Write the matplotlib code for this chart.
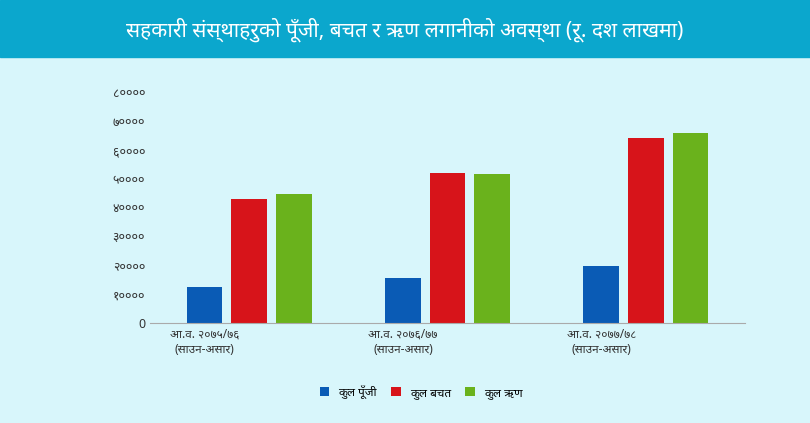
import matplotlib
matplotlib.use("Agg")
import matplotlib.pyplot as plt
import numpy as np

plt.rcParams['font.family'] = ['Noto Sans', 'DejaVu Sans', 'Noto Sans CJK SC']

title = "सहकारी संस्थाहरुको पूँजी, बचत र ऋण लगानीको अवस्था (रू. दश लाखमा)"
categories = ["आ.व. २०७५/७६\n(साउन-असार)", "आ.व. २०७६/७७\n(साउन-असार)", "आ.व. २०७७/७८\n(साउन-असार)"]
series_names = ["कुल पूँजी", "कुल बचत", "कुल ऋण"]
capital = [12500, 15600, 19700]
savings = [42900, 51900, 64000]
loans = [44600, 51600, 65700]
yticks = [0, 10000, 20000, 30000, 40000, 50000, 60000, 70000, 80000]
ytick_labels = ["0", "१००००", "२००००", "३००००", "४००००", "५००००", "६००००", "७००००", "८००००"]
colors = ["#0a5bb5", "#d7141a", "#6ab21c"]

bg = "#d8f6fb"
fig = plt.figure(figsize=(8.10, 4.23), dpi=100, facecolor=bg)
# banner
fig.patches.append(plt.Rectangle((0, 1 - 57/423), 1, 57/423, transform=fig.transFigure, color="#0ba7cd", zorder=0))
fig.text(0.5, 1 - 30/423, title, color="white", ha="center", va="center", fontsize=15, fontweight="bold")

ax = fig.add_axes([150/810, 1 - 323/423, 595/810, 231/423])
ax.set_facecolor(bg)
x = np.arange(len(categories))
w = 0.18
for i, (vals, name) in enumerate(zip([capital, savings, loans], series_names)):
    ax.bar(x + (i - 1) * 0.225, vals, w, color=colors[i], label=name, zorder=2)
ax.set_xlim(-0.5, 2.5)
ax.set_ylim(0, 80000)
ax.set_yticks(yticks)
ax.set_yticklabels(ytick_labels, fontsize=9, color="#333333")
ax.set_xticks(x - 0.225)
ax.set_xticklabels(categories, fontsize=8.5, color="#333333")
ax.tick_params(length=0)
for s in ["top", "right", "left"]:
    ax.spines[s].set_visible(False)
ax.spines["bottom"].set_color("#aaaaaa")
fig.legend(loc="center", bbox_to_anchor=(0.52, 1 - 392/423), ncol=3, frameon=False, fontsize=8.5,
           handlelength=0.8, handleheight=0.8, columnspacing=1.2)
fig.savefig("out.png", dpi=100, facecolor=bg)
